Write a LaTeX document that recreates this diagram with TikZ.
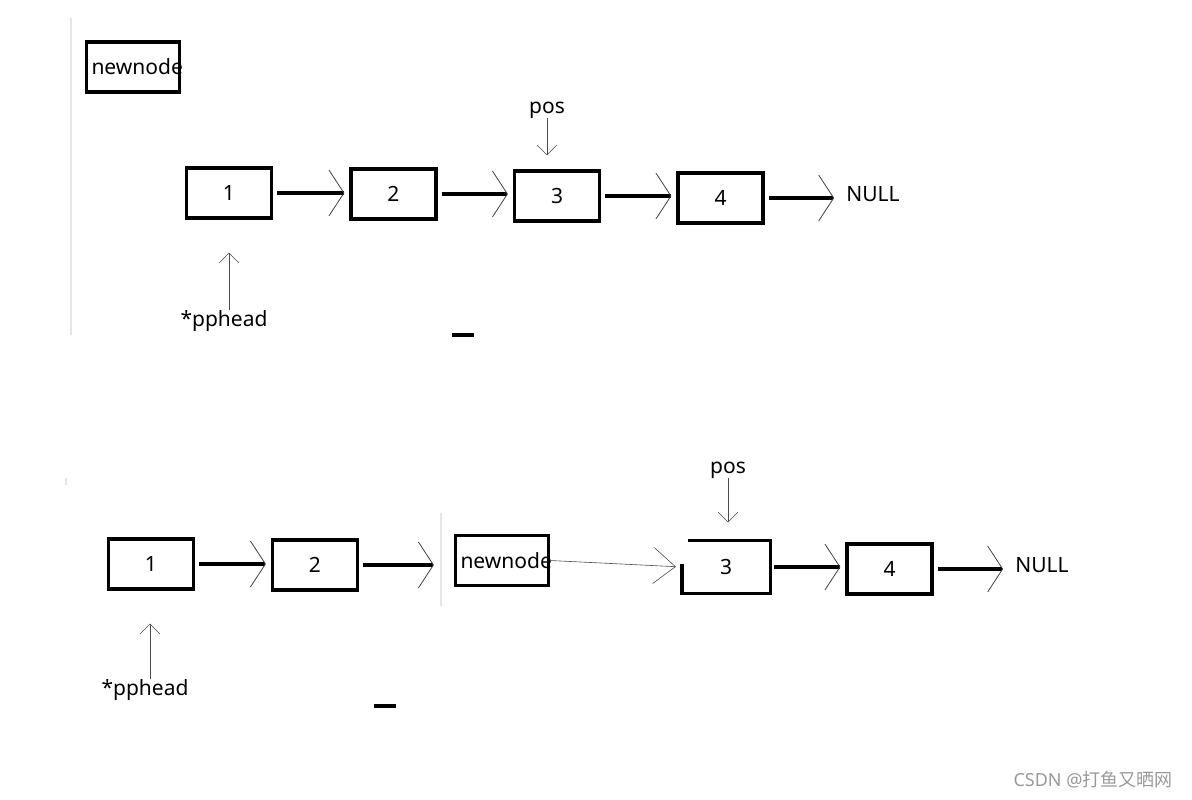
\documentclass[tikz,border=0pt]{standalone}
\usepackage{fontspec}
\setmainfont{Noto Sans}
\newfontfamily\cjk{Noto Sans CJK SC}
\usetikzlibrary{arrows.meta}
\tikzset{
  box/.style={draw, line width=3.2pt, minimum width=85pt, minimum height=50pt, inner sep=0pt, font=\fontsize{21}{25}\selectfont},
  newbox/.style={box, minimum width=0pt, text width=93pt, align=left},
  txt/.style={inner sep=0pt, font=\fontsize{21}{25}\selectfont},
  link/.style={line width=3.2pt, -{Straight Barb[length=15pt,width=46pt,line width=0.8pt,black!75]}, shorten <=4pt, shorten >=5pt},
  ptr/.style={line width=0.6pt, black!70, -{Straight Barb[length=10pt,width=20pt]}},
}
\begin{document}
\begin{tikzpicture}[x=1pt,y=-1pt]
    \useasboundingbox (0,0) rectangle (1192,800);

    % top list
    \draw[gray!20, line width=1.5pt] (71,18) -- (71,335);
    \node[newbox] (nn1) at (133,67) {\makebox[0pt][l]{\hspace*{5pt}newnode}};
    \node[box] (a1) at (229,193) {1};
    \node[box] (a2) at (393.5,194) {2};
    \node[box] (a3) at (557,196) {3};
    \node[box] (a4) at (720.5,198) {4};
    \node[txt] (null1) at (873,194) {NULL};
    \node[txt] (pos1) at (547,110) {pos};
    \node[txt] (pph1) at (224,321) {*pphead};
    \draw  (a1.east) edge[link] (a1.east -| a2.west);
    \draw  (a2.east) edge[link] (a2.east -| a3.west);
    \draw  (a3.east) edge[link] (a3.east -| a4.west);
    \draw  (a4.east) edge[link, shorten >=12pt] (a4.east -| null1.west);
    \draw[ptr, shorten >=14pt] (pos1.south) -- (pos1.south |- a3.north);
    \draw[ptr, shorten >=33pt] ([xshift=5pt]pph1.north) -- ([xshift=5pt]pph1.north |- a1.south);
    \draw[line width=3.2pt] (452,335) -- (474,335);

    % bottom list
    \draw[gray!20, line width=1.5pt] (66,478) -- (66,485);
    \draw[gray!20, line width=1.5pt] (441,513) -- (441,606);
    \node[box] (b1) at (151,564) {1};
    \node[box] (b2) at (315,565) {2};
    \node[newbox] (nn2) at (502,560.5) {\makebox[0pt][l]{\hspace*{5pt}newnode}};
    \node[box, draw=none] (b3) at (726,567) {3};
    \draw[line width=3.2pt] ([yshift=3pt]b3.west) -- (b3.south west) -- (b3.south east) -- (b3.north east) -- ([xshift=6pt]b3.north west);
    \node[box] (b4) at (889.5,569) {4};
    \node[txt] (null2) at (1042,565) {NULL};
    \node[txt] (pos2) at (728,470) {pos};
    \node[txt] (pph2) at (145,690) {*pphead};
    \draw  (b1.east) edge[link] (b1.east -| b2.west);
    \draw  (b2.east) edge[link, shorten >=20pt] (b2.east -| nn2.west);
    \draw  (nn2.east) edge[ptr, -{Straight Barb[length=22pt,width=36pt]}, shorten >=6pt] (b3.west);
    \draw  (b3.east) edge[link] (b3.east -| b4.west);
    \draw  (b4.east) edge[link, shorten >=12pt] (b4.east -| null2.west);
    \draw[ptr, shorten >=18pt] (pos2.south) -- (pos2.south |- b3.north);
    \draw[ptr, shorten >=33pt] ([xshift=5pt]pph2.north) -- ([xshift=5pt]pph2.north |- b1.south);
    \draw[line width=3.2pt] (374,706) -- (396,706);

    \node[inner sep=0pt, gray!80, font=\fontsize{18}{21}\selectfont] (mark) at (1093,780) {CSDN @{\cjk 打鱼又晒网}};
\end{tikzpicture}
\end{document}
